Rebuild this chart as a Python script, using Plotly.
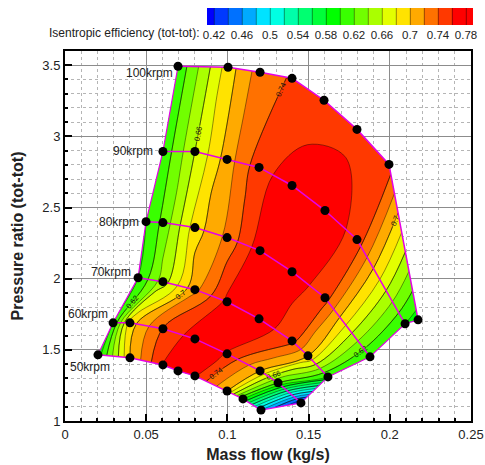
import plotly.graph_objects as go

# Speed lines (krpm), 8 measured points per line, from surge (left) to choke (right)
speeds = [50, 60, 70, 80, 90, 100]

mass_50 = [0.0203, 0.0400, 0.0603, 0.0696, 0.0800, 0.0998, 0.1096, 0.1207]
pr_50 = [1.465, 1.444, 1.394, 1.352, 1.317, 1.211, 1.155, 1.077]
eff_50 = [0.590, 0.700, 0.762, 0.766, 0.762, 0.700, 0.600, 0.480]

mass_60 = [0.0296, 0.0400, 0.0603, 0.0800, 0.0998, 0.1201, 0.1312, 0.1453]
pr_60 = [1.690, 1.690, 1.648, 1.577, 1.472, 1.352, 1.268, 1.127]
eff_60 = [0.600, 0.690, 0.742, 0.770, 0.759, 0.700, 0.620, 0.420]

mass_70 = [0.0450, 0.0603, 0.0800, 0.0998, 0.1195, 0.1398, 0.1496, 0.1619]
pr_70 = [2.007, 1.979, 1.923, 1.838, 1.718, 1.563, 1.458, 1.310]
eff_70 = [0.600, 0.650, 0.715, 0.765, 0.772, 0.746, 0.700, 0.600]

mass_80 = [0.0499, 0.0603, 0.0800, 0.0998, 0.1201, 0.1398, 0.1601, 0.1878]
pr_80 = [2.401, 2.394, 2.359, 2.289, 2.197, 2.049, 1.866, 1.451]
eff_80 = [0.600, 0.625, 0.690, 0.725, 0.772, 0.772, 0.749, 0.600]

mass_90 = [0.0603, 0.0800, 0.0998, 0.1195, 0.1398, 0.1601, 0.1798, 0.2094]
pr_90 = [2.894, 2.894, 2.838, 2.782, 2.655, 2.479, 2.275, 1.683]
eff_90 = [0.605, 0.660, 0.710, 0.752, 0.771, 0.775, 0.752, 0.600]

mass_100 = [0.0696, 0.1004, 0.1201, 0.1398, 0.1595, 0.1798, 0.1995, 0.2174]
pr_100 = [3.493, 3.486, 3.451, 3.408, 3.254, 3.049, 2.803, 1.711]
eff_100 = [0.605, 0.690, 0.730, 0.742, 0.748, 0.752, 0.750, 0.590]

eff_levels = [0.42, 0.02, 0.78]          # start, step, end of contour levels
cbar_ticks = [0.42, 0.46, 0.5, 0.54, 0.58, 0.62, 0.66, 0.7, 0.74, 0.78]

mass = [mass_50, mass_60, mass_70, mass_80, mass_90, mass_100]
pr = [pr_50, pr_60, pr_70, pr_80, pr_90, pr_100]
eff = [eff_50, eff_60, eff_70, eff_80, eff_90, eff_100]

A, B, X, Y, Z = [], [], [], [], []
for s, ms, ps, es in zip(speeds, mass, pr, eff):
    for j, (m, p, e) in enumerate(zip(ms, ps, es)):
        A.append(s); B.append(j); X.append(m); Y.append(p); Z.append(e)

FONT = "Liberation Sans, Arial, sans-serif"
TXT = "#222222"
MAG = "#e600e6"

# rainbow: band below 0.42 blue ... band 0.76-0.78 red
# contour colormap domain runs from start - size/2 to end + size/2
lo = eff_levels[0] - eff_levels[1] / 2
hi = eff_levels[2] + eff_levels[1] / 2
top = eff_levels[2] - eff_levels[1] / 2
def frac(t):
    v = lo + t * (top - lo)
    return (v - lo) / (hi - lo)
cscale = [[0.0, "rgb(0,0,255)"], [frac(0.25), "rgb(0,255,255)"], [frac(0.5), "rgb(0,255,0)"],
          [frac(0.75), "rgb(255,255,0)"], [frac(1.0), "rgb(255,0,0)"], [1.0, "rgb(255,0,0)"]]

hidden_axis = dict(showgrid=False, showline=False, showticklabels="none", startline=False,
                   endline=False, minorgridcount=0, smoothing=0, title=dict(text=""))

fig = go.Figure()
fig.add_trace(go.Carpet(carpet="map", a=A, b=B, x=X, y=Y, aaxis=hidden_axis, baxis=hidden_axis))

fig.add_trace(go.Contourcarpet(
    carpet="map", a=A, b=B, z=Z, autocontour=False,
    contours=dict(start=eff_levels[0], end=eff_levels[2], size=eff_levels[1], coloring="fill"),
    line=dict(color="rgba(0,0,0,0.7)", width=0.6),
    colorscale=cscale,
    colorbar=dict(orientation="h", x=(340 - 65) / 406, xanchor="center", y=(421 - 8) / 370,
                  yanchor="top", len=266, lenmode="pixels", thickness=17, xpad=0, ypad=0,
                  outlinewidth=0, tickmode="array", tickvals=cbar_ticks,
                  ticks="", tickfont=dict(family=FONT, size=11.5, color=TXT)),
    showlegend=False))

# contour labels on a sparser set of levels
fig.add_trace(go.Contourcarpet(
    carpet="map", a=A, b=B, z=Z, autocontour=False,
    contours=dict(start=eff_levels[0], end=eff_levels[2], size=eff_levels[1] * 2,
                  coloring="none", showlabels=True,
                  labelfont=dict(family=FONT, size=7.5, color="#111111")),
    line=dict(color="rgba(0,0,0,0.7)", width=0.6),
    showscale=False, showlegend=False))

# surge and choke boundaries
fig.add_trace(go.Scatter(x=[m[0] for m in mass], y=[p[0] for p in pr], mode="lines",
                         line=dict(color=MAG, width=1.2), showlegend=False, hoverinfo="skip"))
fig.add_trace(go.Scatter(x=[m[-1] for m in mass], y=[p[-1] for p in pr], mode="lines",
                         line=dict(color=MAG, width=1.2), showlegend=False, hoverinfo="skip"))

# speed lines
for s, ms, ps in zip(speeds, mass, pr):
    fig.add_trace(go.Scatter(x=ms, y=ps, mode="lines+markers",
                             line=dict(color=MAG, width=1.5),
                             marker=dict(color="black", size=9),
                             showlegend=False, hoverinfo="skip"))

# speed labels
label_shift = {50: (14, -12), 60: (-3, 9), 70: (-5, 6), 80: (-5, 0), 90: (-8, 0), 100: (-3, -7)}
for s, ms, ps in zip(speeds, mass, pr):
    dx, dy = label_shift[s]
    fig.add_annotation(x=ms[0], y=ps[0], text=f"{s}krpm", showarrow=False, xanchor="right",
                       yanchor="middle", xshift=dx, yshift=dy,
                       font=dict(family=FONT, size=12, color=TXT))

fig.add_annotation(xref="paper", yref="paper", x=(202 - 65) / 406, y=(421 - 33) / 370,
                   text="Isentropic efficiency (tot-tot):", showarrow=False,
                   xanchor="right", yanchor="middle", font=dict(family=FONT, size=12, color=TXT))

axis_common = dict(showline=True, linecolor="black", linewidth=2, mirror=True,
                   ticks="inside", ticklen=7, tickwidth=2, tickcolor="black",
                   showgrid=True, gridcolor="#8c8c8c", gridwidth=1, zeroline=False,
                   tickfont=dict(family=FONT, size=13, color=TXT))

fig.update_xaxes(range=[0, 0.25], dtick=0.05, tick0=0,
                 minor=dict(dtick=0.01, showgrid=True, gridcolor="#b5b5b5", griddash="dot",
                            ticks="inside", ticklen=3, tickcolor="black"),
                 title=dict(text="<b>Mass flow (kg/s)</b>", font=dict(family=FONT, size=16, color=TXT),
                            standoff=8),
                 **axis_common)
fig.update_yaxes(range=[1, 3.6], dtick=0.5, tick0=1,
                 minor=dict(dtick=0.1, showgrid=True, gridcolor="#b5b5b5", griddash="dot",
                            ticks="inside", ticklen=3, tickcolor="black"),
                 title=dict(text="<b>Pressure ratio (tot-tot)</b>", font=dict(family=FONT, size=16, color=TXT),
                            standoff=15),
                 **axis_common)

fig.update_layout(width=485, height=465, margin=dict(l=65, r=14, t=51, b=44, autoexpand=False),
                  paper_bgcolor="white", plot_bgcolor="white", showlegend=False)

fig.write_html("out.html", config={"displayModeBar": False},
               post_script="document.body.style.margin='0px';")
